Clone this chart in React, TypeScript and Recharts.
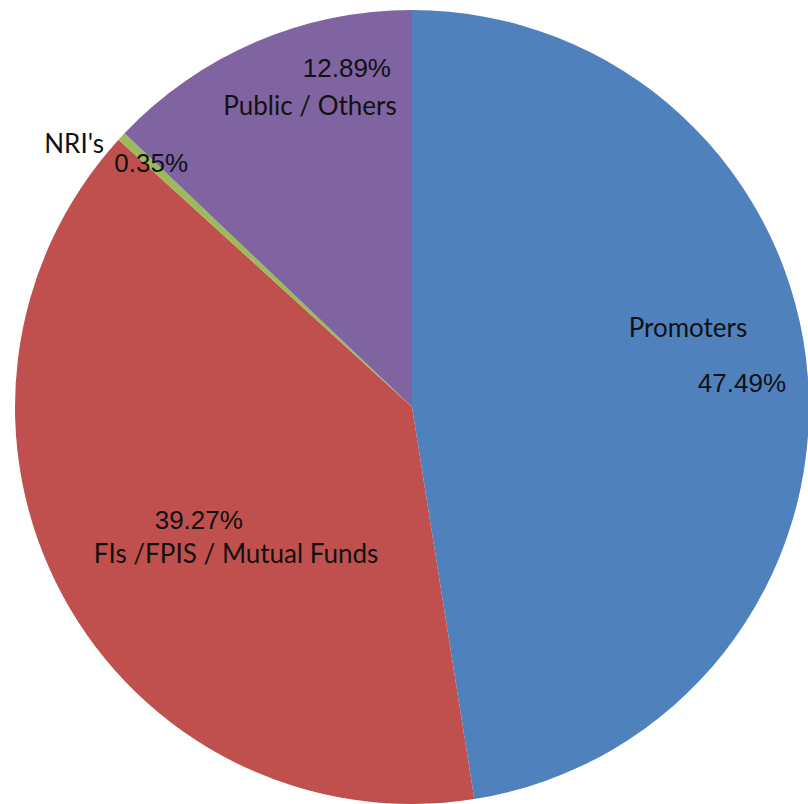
import { PieChart, Pie, Cell } from "recharts";

const NAMES = ["Promoters", "FIs /FPIS / Mutual Funds", "NRI's", "Public / Others"];
const VALUES = [47.49, 39.27, 0.35, 12.89];
const COLORS = ["#4F81BD", "#C0504D", "#9BBB59", "#8064A2"];

// label placement as fractions of the radius, relative to the pie centre
const NAME_POS = [
  [0.695, -0.202],
  [-0.443, 0.368],
  [-0.851, -0.665],
  [-0.257, -0.761],
];
const PCT_POS = [
  [0.831, -0.06],
  [-0.537, 0.285],
  [-0.657, -0.615],
  [-0.164, -0.854],
];

const data = NAMES.map((name, i) => ({ name, value: VALUES[i] }));

const renderLabel = (props: any) => {
  const { cx, cy, outerRadius, index, value } = props;
  const n = NAME_POS[index];
  const p = PCT_POS[index];
  return (
    <g key={index}>
      <text
        x={cx + n[0] * outerRadius}
        y={cy + n[1] * outerRadius}
        textAnchor="middle"
        dominantBaseline="central"
        fill="#111"
        fontSize={26}
        fontFamily="Lato, 'Open Sans', sans-serif"
      >
        {NAMES[index]}
      </text>
      <text
        x={cx + p[0] * outerRadius}
        y={cy + p[1] * outerRadius}
        textAnchor="middle"
        dominantBaseline="central"
        fill="#111"
        fontSize={26}
        fontFamily="'Liberation Sans', Arial, sans-serif"
      >
        {value.toFixed(2)}%
      </text>
    </g>
  );
};

export default function App() {
  return (
    <div style={{ position: "absolute", left: 0, top: 0, width: 808, height: 804, background: "#fff" }}>
      <PieChart width={808} height={804} margin={{ top: 0, right: 0, bottom: 0, left: 0 }}>
        <Pie
          data={data}
          dataKey="value"
          cx={412}
          cy={407}
          outerRadius={397}
          startAngle={90}
          endAngle={-270}
          stroke="none"
          labelLine={false}
          label={renderLabel}
          isAnimationActive={false}
        >
          {data.map((_, i) => (
            <Cell key={i} fill={COLORS[i]} />
          ))}
        </Pie>
      </PieChart>
    </div>
  );
}
